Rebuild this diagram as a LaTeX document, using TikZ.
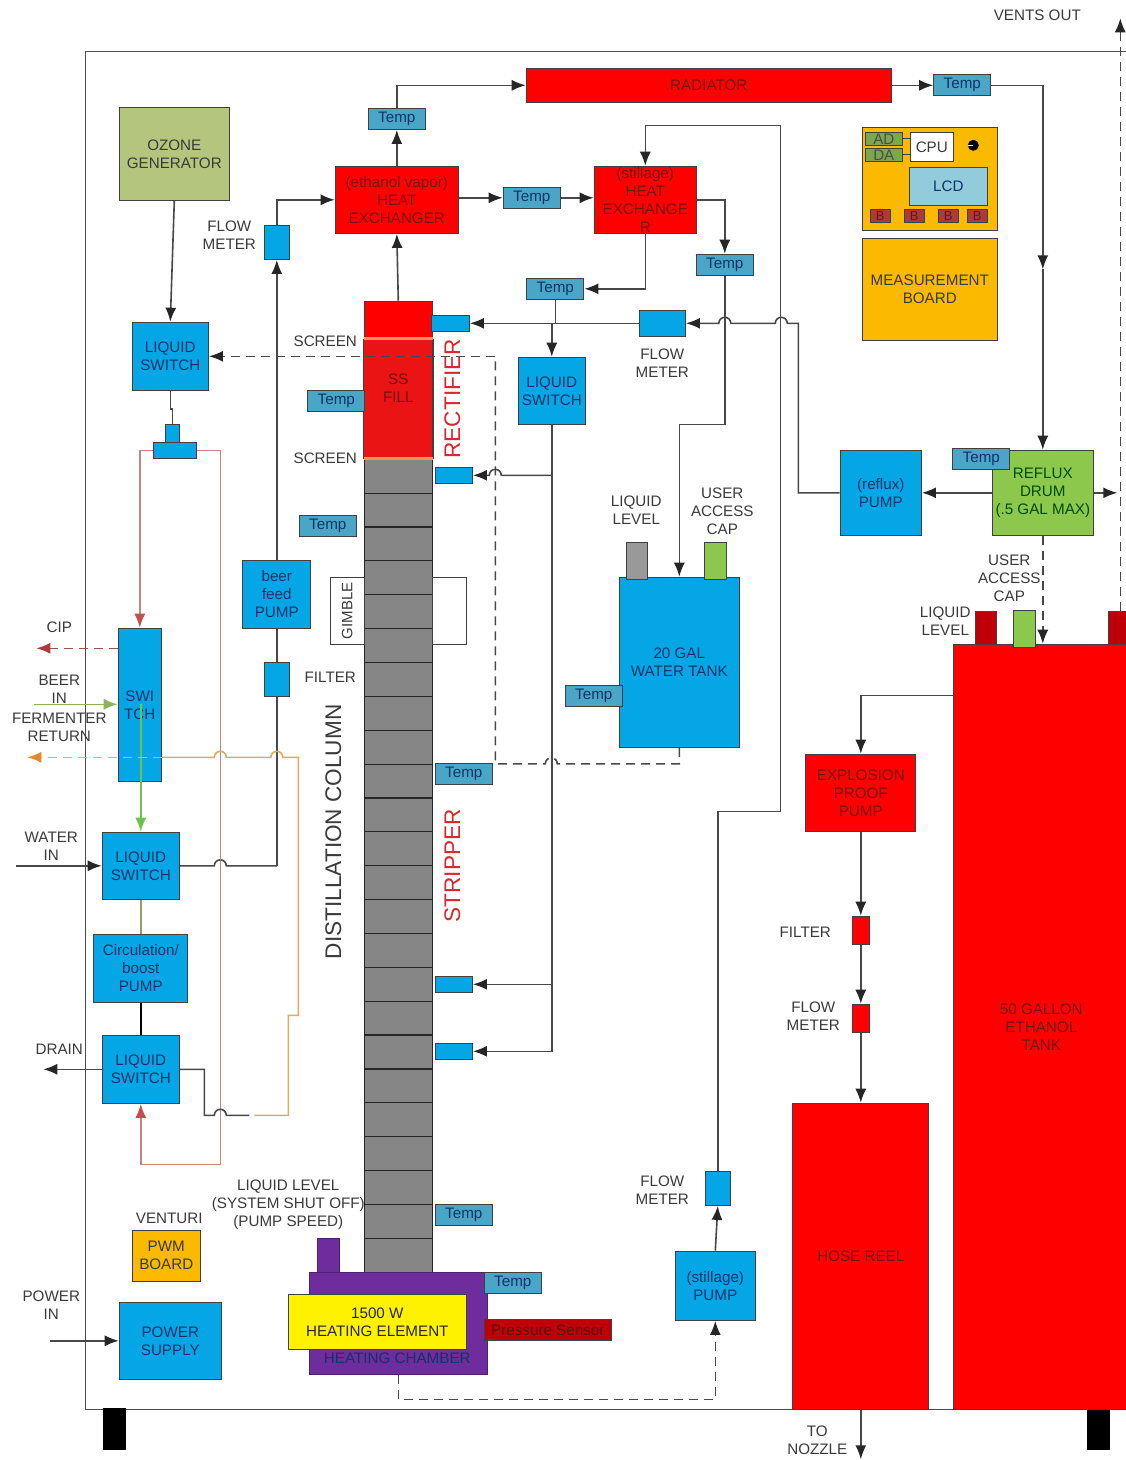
\documentclass[tikz,border=0pt]{standalone}
\usepackage{fontspec}
\usepackage{xcolor}
\usetikzlibrary{arrows.meta}
\setmainfont{Liberation Sans}
\definecolor{pipe}{HTML}{484848}
\definecolor{labelgray}{HTML}{3A3A3A}
\definecolor{navytext}{HTML}{0E3468}
\definecolor{redtext}{HTML}{741010}
\definecolor{sectiontext}{HTML}{D8282C}
\definecolor{bluefill}{HTML}{04A6E6}
\definecolor{tempfill}{HTML}{4AA6C6}
\definecolor{greenfill}{HTML}{8CC84C}
\definecolor{chipgreen}{HTML}{7CA84C}
\definecolor{lcdfill}{HTML}{92CBDC}
\definecolor{ozonefill}{HTML}{B4C67E}
\definecolor{boardfill}{HTML}{FBB900}
\definecolor{chamberfill}{HTML}{6E2C9C}
\definecolor{darkredfill}{HTML}{C00008}
\definecolor{ssfill}{HTML}{EA1414}
\definecolor{colgray}{HTML}{868686}
\definecolor{pinkline}{HTML}{C8847C}
\definecolor{pinktip}{HTML}{C0504D}
\definecolor{orangeline}{HTML}{E0A868}
\definecolor{cipline}{HTML}{A83C3C}
\definecolor{beerline}{HTML}{8CB45C}
\definecolor{returnline}{HTML}{E8862C}
\tikzset{
    box-size/.style 2 args = {minimum width=#1pt, minimum height=#2pt},
    base-box/.style = {draw=black!75, line width=1.2pt, rectangle, inner sep=0pt, align=center, font=\fontsize{15.2}{18}\selectfont},
    blue-box/.style = {base-box, fill=bluefill, text=navytext},
    temp-box/.style = {base-box, fill=tempfill, text=navytext, box-size={57}{21}},
    red-box/.style = {base-box, fill=red, text=redtext},
    label/.style = {xshift=1pt, yshift=-0.5pt, inner sep=0pt, align=center, text=labelgray, font=\fontsize{15.2}{18}\selectfont},
    big-label/.style = {label, rotate=90, font=\fontsize{22.6}{24}\selectfont},
    flow/.style = {draw=pipe, line width=1.6pt, -{Latex[length=14pt,width=11pt,color=black!85]}},
    wire/.style = {draw=pipe, line width=1.6pt},
    dash-flow/.style = {flow, dash pattern=on 9pt off 6pt},
    dash-wire/.style = {wire, dash pattern=on 9pt off 6pt},
    board-chip/.style = {base-box, fill=#1},
    tint-flow/.style = {draw=#1, line width=1.6pt, -{Latex[length=14pt,width=11pt,color=#1]}},
}
% one hop over a crossing line, walking left or right
\newcommand{\hopleft}[2]{-- (#1+6,#2) arc[start angle=0, end angle=180, radius=6pt]}
\newcommand{\hopright}[2]{-- (#1-6,#2) arc[start angle=180, end angle=0, radius=6pt]}

\begin{document}
\begin{tikzpicture}[x=1pt, y=-1pt]
\useasboundingbox (0.7,0.7) rectangle (1126.7,1460.7);
\fill[white] (0,0) rectangle (1130,1462);

% cabinet
\draw[black!70, line width=1.5pt] (1132,52) -- (86,52) -- (86,1410) -- (1132,1410);
\fill[black] (104,1409) rectangle (127,1451);
\fill[black] (1088,1409) rectangle (1111,1451);

% top row
\node[red-box, box-size={365}{34}] (radiator) at (709.5,86) {RADIATOR};
\node[temp-box] (temp-radiator) at (963,86) {Temp};
\node[temp-box] (temp-vapor) at (397.5,119.5) {Temp};
\node[red-box, box-size={123}{67}] (exchanger-vapor) at (397.5,200.5) {(ethanol vapor)\\HEAT\\EXCHANGER};
\node[temp-box] (temp-between) at (532.5,198.5) {Temp};
\node[red-box, box-size={102}{67}] (exchanger-still) at (646,200.5) {(stillage)\\HEAT\\EXCHANGE\\R};
\node[temp-box] (temp-still) at (725.5,265.5) {Temp};
\node[temp-box] (temp-switch) at (556,289.5) {Temp};

% left side
\node[base-box, fill=ozonefill, text=labelgray, box-size={110}{93}] (ozone) at (175,154.5) {OZONE\\GENERATOR};
\node[blue-box, box-size={25}{34}] (flow-beer) at (277.5,243) {};
\node[label] at (229,235) {FLOW\\METER};
\node[blue-box, box-size={76}{68}] (switch-ozone) at (171,357) {LIQUID\\SWITCH};
\node[blue-box, box-size={14}{18}] (tee-stem) at (173,434) {};
\node[blue-box, box-size={43}{16}] (tee-bar) at (175.5,451) {};
\node[blue-box, box-size={68}{68}] (pump-beer) at (277.5,595) {beer\\feed\\PUMP};
\node[blue-box, box-size={25}{34}] (filter-beer) at (277.5,680) {};
\node[label] at (330,677) {FILTER};
\node[blue-box, box-size={43}{153}] (switch-main) at (140.5,705.5) {SWI\\TCH};
\node[blue-box, box-size={77}{67}] (switch-water) at (141.5,866.5) {LIQUID\\SWITCH};
\node[blue-box, box-size={94}{68}] (pump-boost) at (141.5,969) {Circulation/\\boost\\PUMP};
\node[blue-box, box-size={77}{68}] (switch-drain) at (141.5,1070) {LIQUID\\SWITCH};
\node[label] at (59,627) {CIP};
\node[label] at (59,689) {BEER\\IN};
\node[label] at (59,728) {FERMENTER\\RETURN};
\node[label] at (51,846) {WATER\\IN};
\node[label] at (59,1049) {DRAIN};
\coordinate (cip-out) at (37,649);
\coordinate (beer-in) at (35,705);
\coordinate (return-out) at (28,758);
\coordinate (water-in) at (17,866.5);
\coordinate (drain-out) at (44,1070);

% distillation column
\foreach \i in {0,...,23}
    \node[base-box, draw=black!85, fill=colgray, box-size={68}{33.87}] at (399,476.9+33.87*\i) {};
\node[base-box, fill=red, box-size={68}{38}] (column-top) at (399,321) {};
\node[base-box, draw=none, fill=ssfill, box-size={68}{119}] (ss-fill) at (399,399.5) {};
\node[text=redtext, inner sep=0pt, align=center, font=\fontsize{15.2}{18}\selectfont] at (399,389) {SS\\FILL};
\draw[black!75, line width=1.2pt] (ss-fill.north west) -- (ss-fill.south west) (ss-fill.north east) -- (ss-fill.south east);
\draw[orange!80!red!70!white, line width=3pt] (ss-fill.north west) -- (ss-fill.north east);
\draw[orange!80!red!70!white, line width=3pt] (ss-fill.south west) -- (ss-fill.south east);
\node[label] at (325,341) {SCREEN};
\node[label] at (325,458) {SCREEN};
\node[temp-box] at (337,401.5) {Temp};
\node[temp-box] at (328.5,526.5) {Temp};
\node[base-box, fill=white, text=labelgray, box-size={34}{67}] (gimble) at (348,611.5) {\rotatebox{90}{\fontsize{15}{15}\selectfont GIMBLE}};
\node[base-box, box-size={34}{67}] (gimble-right) at (450,611.5) {};
\node[big-label] at (333,832) {DISTILLATION COLUMN};
\node[big-label, text=sectiontext] at (452,399) {RECTIFIER};
\node[big-label, text=sectiontext] at (452,866) {STRIPPER};
\node[blue-box, box-size={38}{16}] (inlet-top) at (451,324) {};
\node[blue-box, box-size={37}{16}] (inlet-rect) at (454.5,476) {};
\node[blue-box, box-size={37}{16}] (inlet-strip) at (454.5,985) {};
\node[blue-box, box-size={37}{16}] (inlet-low) at (454.5,1052) {};
\node[temp-box] at (464.5,774.5) {Temp};
\node[temp-box] at (464.5,1215.5) {Temp};

% heating chamber
\node[base-box, draw=chamberfill!70!black, fill=chamberfill, box-size={22}{34}] (level-stub) at (329,1256) {};
\node[base-box, draw=chamberfill!70!black, fill=chamberfill, box-size={178}{102}] (chamber) at (399,1324) {};
\node[text=navytext, inner sep=0pt, font=\fontsize{15.2}{18}\selectfont] at (398,1359) {HEATING CHAMBER};
\node[base-box, fill=yellow, text=black!85, box-size={178}{55}] (element) at (378,1322.5) {1500 W\\HEATING ELEMENT};
\node[temp-box] at (513.5,1283.5) {Temp};
\node[base-box, fill=darkredfill, text=redtext!80!black, box-size={127}{21}] (pressure) at (548.5,1330.5) {Pressure Sensor};
\node[label] at (288,1204.5) {LIQUID LEVEL\\(SYSTEM SHUT OFF)\\(PUMP SPEED)};
\node[label] at (169,1219) {VENTURI};
\node[base-box, fill=boardfill, text=labelgray, box-size={68}{51}] (pwm) at (167,1256.5) {PWM\\BOARD};
\node[label] at (51,1305) {POWER\\IN};
\node[blue-box, box-size={102}{77}] (power) at (171,1341.5) {POWER\\SUPPLY};
\coordinate (power-in) at (51,1341.5);

% middle
\node[blue-box, box-size={46}{26}] (flow-reflux) at (663,324) {};
\node[label] at (662,363) {FLOW\\METER};
\node[blue-box, box-size={67}{67}] (switch-mid) at (552.5,391.5) {LIQUID\\SWITCH};
\node[blue-box, box-size={120}{170}] (tank-water) at (680,663) {20 GAL\\WATER TANK};
\node[temp-box] at (594.5,696.5) {Temp};
\node[base-box, fill=gray!80, box-size={21}{37}] (level-water) at (637.5,561.5) {};
\node[base-box, fill=greenfill, box-size={22}{37}] (cap-water) at (716,561.5) {};
\node[label] at (636,510) {LIQUID\\LEVEL};
\node[label] at (722,511) {USER\\ACCESS\\CAP};
\node[blue-box, box-size={80}{69}] (pump-still) at (716,1286.5) {(stillage)\\PUMP};
\node[blue-box, box-size={25}{34}] (flow-still) at (718.5,1189) {};
\node[label] at (662,1190) {FLOW\\METER};

% boards
\node[base-box, fill=boardfill, box-size={135}{103}] (controller) at (930.5,179.5) {};
\node[board-chip=chipgreen, text=black!70, box-size={37}{13}] (chip-ad) at (884.5,139.5) {AD};
\node[board-chip=chipgreen, text=black!70, box-size={37}{13}] (chip-da) at (884.5,155.5) {DA};
\node[base-box, fill=white, text=labelgray, box-size={43}{29}] (cpu) at (932.5,147.5) {CPU};
\draw[black!75, line width=1pt] (chip-ad.east) -- (cpu.west |- chip-ad.east);
\draw[black!75, line width=1pt] (chip-da.east) -- (cpu.west |- chip-da.east);
\node[base-box, fill=lcdfill, text=navytext, box-size={78}{38}] (lcd) at (949,187) {LCD};
\foreach \x in {881,915,949,978}
    \node[board-chip=cipline, box-size={20}{13}, text=redtext, font=\fontsize{13}{13}\selectfont] at (\x,217) {B};
\node[circle, fill=black, inner sep=0pt, minimum size=11pt] (knob) at (974,146) {};
\draw[white, line width=1pt] (knob.west) -- (knob.center);
\node[base-box, fill=boardfill, text=labelgray, box-size={135}{102}] (measure) at (930.5,290) {MEASUREMENT\\BOARD};

% reflux
\node[blue-box, box-size={81}{85}] (pump-reflux) at (881.5,493.5) {(reflux)\\PUMP};
\node[base-box, fill=greenfill, text=black!70!green, box-size={101}{85}] (drum) at (1043.5,493.5) {REFLUX\\DRUM\\(.5 GAL MAX)};
\node[temp-box] at (982,459.5) {Temp};
\coordinate (drum-out) at (1118,493.5);

% ethanol side
\node[red-box, box-size={176}{765}] (tank-ethanol) at (1042,1027.5) {50 GALLON\\ETHANOL\\TANK};
\node[base-box, fill=darkredfill, box-size={21}{33}] (level-ethanol) at (986.5,628.5) {};
\node[base-box, fill=greenfill, box-size={22}{37}] (cap-ethanol) at (1025,629.5) {};
\node[base-box, fill=darkredfill, box-size={22}{33}] (vent-stub) at (1120,628.5) {};
\node[label] at (1009,578) {USER\\ACCESS\\CAP};
\node[label] at (945,621) {LIQUID\\LEVEL};
\node[label] at (1037,15) {VENTS OUT};
\coordinate (vent-out) at (1121,19);
\node[red-box, box-size={110}{77}] (pump-ex) at (861.5,793.5) {EXPLOSION\\PROOF\\PUMP};
\node[red-box, box-size={17}{28}] (filter-ex) at (861.5,931) {};
\node[red-box, box-size={17}{28}] (flow-ex) at (861.5,1019) {};
\node[label] at (805,932) {FILTER};
\node[label] at (813,1016) {FLOW\\METER};
\node[red-box, box-size={136}{306}] (hose) at (861.5,1257) {HOSE REEL};
\node[label] at (817,1440) {TO\\NOZZLE};
\coordinate (nozzle) at (861.5,1460);

% vapor path
\draw[flow] (column-top.north) -- (exchanger-vapor.south);
\draw[flow] (exchanger-vapor.north) -- (temp-vapor.south);
\draw[flow] (temp-vapor.north) |- (radiator.west);
\draw[flow] (radiator.east) -- (temp-radiator.west);
\coordinate (mid-radiator) at (1043.5,270);
\draw[flow] (temp-radiator.east) -| (mid-radiator);
\draw[flow] (mid-radiator) -- (drum.north);
\draw[flow] (exchanger-vapor.east |- temp-between.west) -- (temp-between.west);
\draw[flow] (temp-between.east) -- (temp-between.east -| exchanger-still.west);
\draw[flow] (exchanger-still.east) -| (temp-still.north);
\draw[flow] (exchanger-still.south) |- (temp-switch.east);
\coordinate (switch-jog) at (556,324);
\draw[flow] (temp-switch.south) -- (switch-jog) -| (switch-mid.north);

% stillage path
\coordinate (still-top) at (781,126);
\coordinate (still-mid) at (781,812);
\draw[flow] (flow-still.north) |- (still-mid) -- (still-top) -| (exchanger-still.north);
\draw[flow] (pump-still.north) -- (flow-still.south);
\coordinate (chamber-drop) at (399,1400);
\draw[dash-flow] (chamber.south) -- (chamber-drop) -| (pump-still.south);

% cooling water to the tank
\coordinate (tank-jog) at (725.5,425);
\draw[flow] (temp-still.south) -- (tank-jog) -| (tank-water.north);

% reflux path
\draw[flow] (drum.west) -- (pump-reflux.east);
\coordinate (reflux-top) at (799,324);
\draw[flow] (pump-reflux.west) -| (reflux-top) \hopleft{782}{324} \hopleft{725.5}{324} -- (flow-reflux.east);
\draw[flow] (flow-reflux.west) -- (inlet-top.east);
\draw[flow] (drum.east) -- (drum-out);
\draw[dash-flow] (drum.south) -- (drum.south |- tank-ethanol.north);

% water to the column inlets
\draw[flow] (switch-mid.south) |- (inlet-low.east);
\draw[flow] (switch-mid.south |- inlet-strip.east) -- (inlet-strip.east);
\draw[flow] (switch-mid.south |- inlet-rect.east) \hopleft{496}{476} -- (inlet-rect.east);

% tank overflow back to the ozone switch
\coordinate (over-low) at (496,764.5);
\coordinate (over-high) at (496,357);
\draw[dash-wire] (tank-water.south) |- (558,764.5) arc[start angle=0, end angle=180, radius=6pt] -- (over-low) -- (over-high);
\draw[dash-flow] (over-high) -- (switch-ozone.east);

% vents
\draw[dash-flow] (vent-stub.north -| vent-out) -- (vent-out);

% ethanol path
\draw[flow] (tank-ethanol.west |- 0,696) -| (pump-ex.north);
\draw[flow] (pump-ex.south) -- (filter-ex.north);
\draw[flow] (filter-ex.south) -- (flow-ex.north);
\draw[flow] (flow-ex.south) -- (hose.north);
\draw[flow] (hose.south) -- (nozzle);

% beer path
\draw[flow] (ozone.south) -- (switch-ozone.north);
\draw[wire] (switch-ozone.south) -- ++(0,18) -| (tee-stem.north);
\draw[flow] (flow-beer.north) |- (exchanger-vapor.west);
\draw[flow] (pump-beer.north) -- (flow-beer.south);
\draw[wire] (pump-beer.south) -- (filter-beer.north);
\coordinate (water-jog) at (277.5,866.5);
\draw[wire] (filter-beer.south) -- (water-jog);
\draw[wire] (switch-water.east) \hopright{221}{866.5} -- (water-jog);
\draw[flow] (water-in) -- (switch-water.west);
\draw[flow] (switch-drain.west) -- (drain-out);
\draw[flow] (power-in) -- (power.west);
\draw[wire, draw=beerline!70!gray] (switch-water.south) -- (pump-boost.north);
\draw[wire, draw=black] (pump-boost.south) -- (switch-drain.north);

% cip loop
\coordinate (cip-right) at (221,451);
\coordinate (cip-low) at (221,1165);
\draw[tint-flow=pinktip, draw=pinkline] (tee-bar.west) -| (switch-main.north);
\draw[tint-flow=pinktip, draw=pinkline] (tee-bar.east) -- (cip-right) -- (cip-low) -| (switch-drain.south);
\draw[tint-flow=cipline, draw=cipline!70!gray, dash pattern=on 9pt off 6pt] (switch-main.west |- 0,649) -- (cip-out);
\draw[tint-flow=beerline] (beer-in) -- (switch-main.west |- 0,705);
\draw[tint-flow=beerline!80!green] (switch-water.north |- 0,705) -- (switch-water.north);

% return and drain lines
\coordinate (return-right) at (299,758);
\coordinate (return-step) at (299,1016);
\coordinate (return-foot) at (289,1116);
\coordinate (drain-end) at (250,1116);
\draw[draw=orangeline, line width=1.6pt] (255,1116) -- (return-foot) |- (return-step) -- (return-right) \hopleft{277.5}{758} \hopleft{221}{758} -- (switch-main.east |- 0,758);
\draw[tint-flow=returnline, draw=returnline!70!white, dash pattern=on 9pt off 6pt] (switch-main.east |- 0,758) -- (return-out);
\coordinate (drain-jog) at (205,1116);
\draw[wire] (switch-drain.east) -| (drain-jog) \hopright{221}{1116} -- (drain-end);
\end{tikzpicture}
\end{document}
